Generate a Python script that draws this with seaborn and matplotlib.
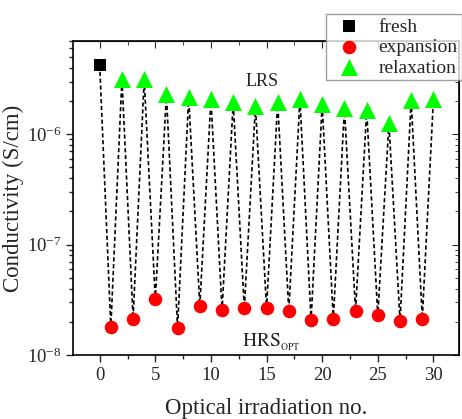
import numpy as np
import pandas as pd
import matplotlib
matplotlib.use("Agg")
import matplotlib.pyplot as plt
import seaborn as sns
from matplotlib.ticker import LogLocator, MultipleLocator, NullFormatter, LogFormatterMathtext

sns.set_style("ticks")
plt.rcParams['font.family'] = ['Liberation Serif', 'DejaVu Serif']
plt.rcParams['mathtext.fontset'] = 'stix'

fresh_x = [0]
fresh_y = [4.24e-6]
expansion_x = [1, 3, 5, 7, 9, 11, 13, 15, 17, 19, 21, 23, 25, 27, 29]
expansion_y = [1.79e-8, 2.14e-8, 3.19e-8, 1.75e-8, 2.79e-8, 2.55e-8, 2.64e-8, 2.66e-8,
               2.51e-8, 2.08e-8, 2.11e-8, 2.51e-8, 2.29e-8, 2.04e-8, 2.14e-8]
relaxation_x = [2, 4, 6, 8, 10, 12, 14, 16, 18, 20, 22, 24, 26, 28, 30]
relaxation_y = [3.2e-6, 3.15e-6, 2.3e-6, 2.17e-6, 2.08e-6, 1.95e-6, 1.8e-6, 1.95e-6,
                2.08e-6, 1.87e-6, 1.72e-6, 1.65e-6, 1.26e-6, 2.04e-6, 2.08e-6]

df = pd.DataFrame({
    "x": fresh_x + expansion_x + relaxation_x,
    "y": fresh_y + expansion_y + relaxation_y,
    "state": ["fresh"] * len(fresh_x) + ["expansion"] * len(expansion_x) + ["relaxation"] * len(relaxation_x),
}).sort_values("x")

fig = plt.figure(figsize=(4.62, 4.19), dpi=100)
ax = fig.add_axes([73/462, 1 - 355/419, (459 - 73)/462, (355 - 41)/419])

sns.lineplot(data=df, x="x", y="y", sort=True, ax=ax, color="black",
             lw=1.2, linestyle=(0, (2.5, 1.6)), zorder=1, legend=False)

styles = {"fresh": ("s", "black", 85), "expansion": ("o", "red", 95), "relaxation": ("^", "#00ff00", 150)}
for name, (mk, col, s) in styles.items():
    sub = df[df.state == name]
    sns.scatterplot(data=sub, x="x", y="y", marker=mk, color=col, s=s, linewidth=0,
                    ax=ax, label=name, zorder=3)

ax.set_yscale("log")
ax.set_xlim(-2.4, 32.3)
ax.set_ylim(1e-8, 7e-6)
ax.xaxis.set_major_locator(MultipleLocator(5))
ax.xaxis.set_minor_locator(MultipleLocator(2.5))
ax.yaxis.set_major_locator(LogLocator(base=10))
ax.yaxis.set_major_formatter(LogFormatterMathtext())
ax.yaxis.set_minor_locator(LogLocator(base=10, subs=np.arange(2, 10)))
ax.yaxis.set_minor_formatter(NullFormatter())
ax.tick_params(axis="both", which="major", direction="out", length=5, width=1, labelsize=13.5)
ax.tick_params(axis="both", which="minor", direction="out", length=3, width=1)
for sp in ax.spines.values():
    sp.set_linewidth(1.2)
    sp.set_color("black")

top = ax.secondary_xaxis("top")
top.xaxis.set_major_locator(MultipleLocator(5))
top.xaxis.set_minor_locator(MultipleLocator(2.5))
top.tick_params(which="major", direction="in", length=5, labeltop=False)
top.tick_params(which="minor", direction="in", length=3)
top.set_xticklabels([])
right = ax.secondary_yaxis("right")
right.tick_params(which="major", direction="in", length=5, labelright=False)
right.tick_params(which="minor", direction="in", length=3)
right.set_yticklabels([])

ax.set_xlabel("Optical irradiation no.", fontsize=16.5, labelpad=10)
ax.set_ylabel("Conductivity (S/cm)", fontsize=16.5, labelpad=2)

ax.text(14.6, 3.0e-6, "LRS", fontsize=13, ha="center", va="center")
ax.text(12.8, 1.3e-8, r"$\mathrm{HRS}_{_{\mathrm{OPT}}}$", fontsize=14, ha="left", va="center")

leg = ax.legend(loc="upper left", bbox_to_anchor=(326/462, 1 - 14/419), bbox_transform=fig.transFigure,
                fontsize=14, frameon=True, fancybox=False, edgecolor="#888888",
                handletextpad=0.5, borderpad=0.2, labelspacing=0.15, borderaxespad=0, markerscale=1.0)
leg.get_frame().set_linewidth(1.0)
leg.set_zorder(10)

fig.savefig("out.png", dpi=100)
